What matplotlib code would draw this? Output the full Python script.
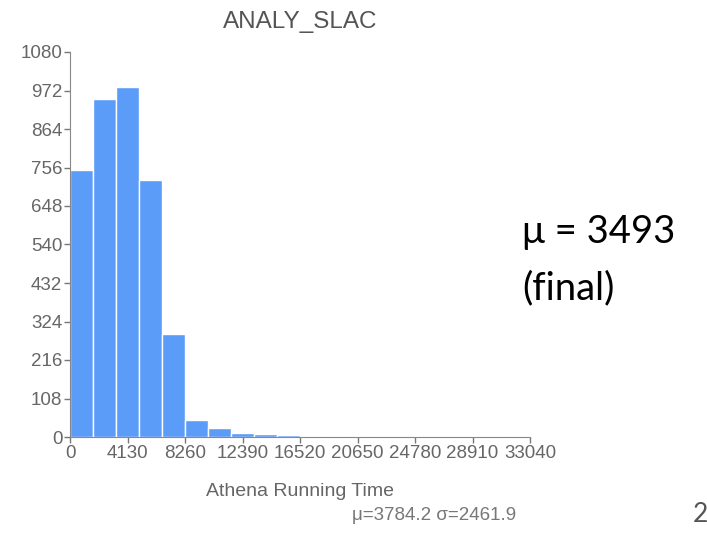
import numpy as np
import matplotlib.pyplot as plt

plt.rcParams['font.family'] = ['Liberation Sans', 'DejaVu Sans']

# histogram of running times, 20 bins over 0..33040
bin_edges = np.linspace(0, 33040, 21)
counts = [748, 948, 982, 722, 289, 48, 26, 12, 8, 5, 3, 3, 2, 1, 0, 0, 0, 0, 0, 2]
y_ticks = np.arange(0, 1081, 108)
x_ticks = np.arange(0, 33041, 4130)

W, H = 707, 533
fig = plt.figure(figsize=(W / 100, H / 100), dpi=100)
ax = fig.add_axes([70 / W, 96 / H, 460 / W, 385 / H])

ax.bar(bin_edges[:-1], counts, width=np.diff(bin_edges), align='edge',
       color='#5b9cf9', edgecolor='white', linewidth=1.0)

ax.set_xlim(0, 33040)
ax.set_ylim(0, 1080)
ax.set_xticks(x_ticks)
ax.set_yticks(y_ticks)
ax.tick_params(colors='#777777', labelcolor='#666666', labelsize=13.5,
               length=4, width=1, pad=1.5)
for s in ['top', 'right']:
    ax.spines[s].set_visible(False)
for s in ['left', 'bottom']:
    ax.spines[s].set_color('#888888')

ax.set_title('ANALY_SLAC', color='#555555', fontsize=17.5, pad=17)

# axis caption and summary line under the plot
fig.text(300 / W, 1 - 492 / H, 'Athena Running Time', color='#666666',
         fontsize=14, ha='center', va='center')
fig.text(434 / W, 1 - 515 / H, 'μ=3784.2 σ=2461.9', color='#777777',
         fontsize=13.5, ha='center', va='center')

fig.text(522 / W, 1 - 243 / H, 'μ = 3493', fontsize=27.5, color='black',
         ha='left', va='baseline', family=['Lato', 'DejaVu Sans'])
fig.text(522 / W, 1 - 299 / H, '(final)', fontsize=27.5, color='black',
         ha='left', va='baseline', family=['Lato', 'DejaVu Sans'])
fig.text(700 / W, 1 - 515 / H, '2', fontsize=19, color='#555555',
         ha='center', va='center', family=['Lato', 'DejaVu Sans'])

fig.savefig('out.png', dpi=100)
